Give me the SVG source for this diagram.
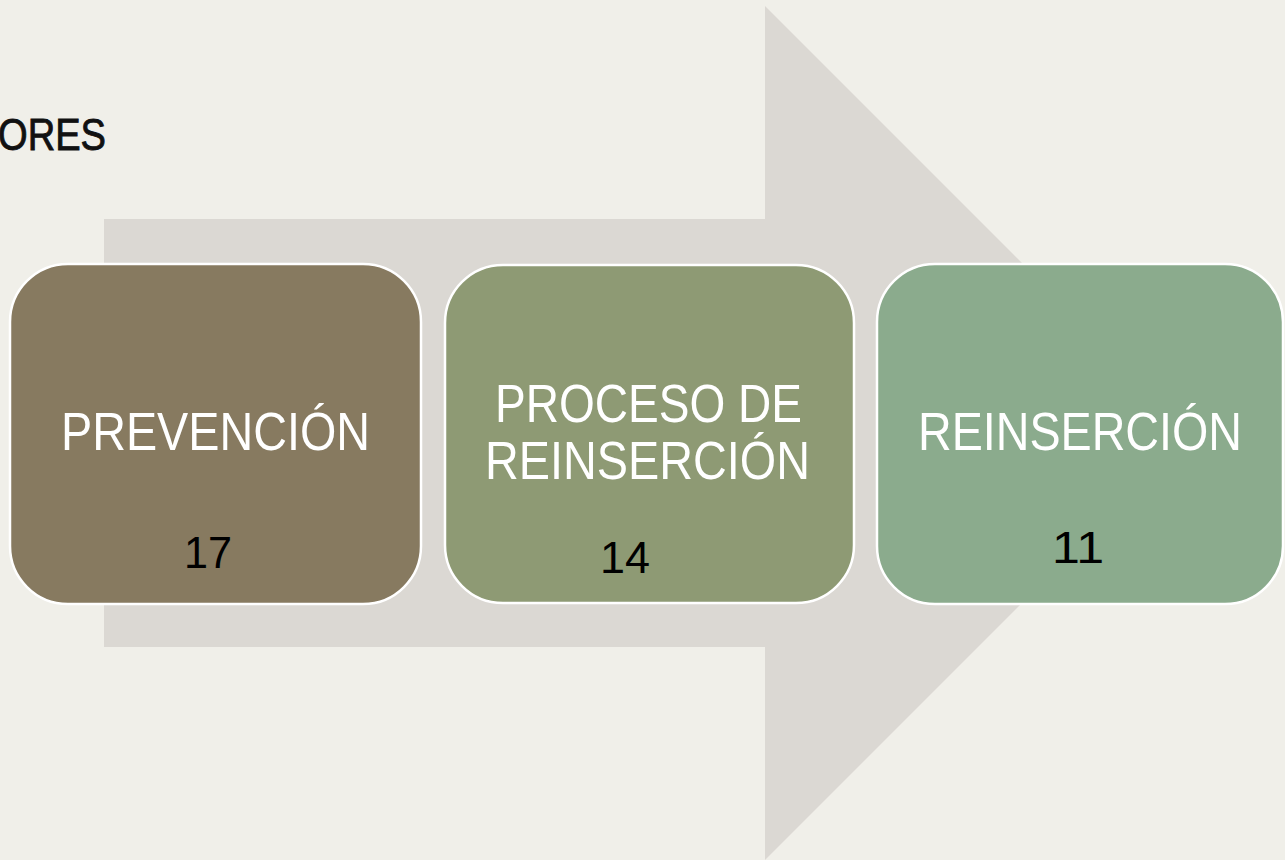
<svg xmlns="http://www.w3.org/2000/svg" width="1285" height="860" viewBox="0 0 1285 860">
<style>
.box{stroke:#FFFFFF;stroke-width:2.5}
.lbl{font-family:"Liberation Sans","DejaVu Sans",sans-serif;font-size:54px;fill:#FFFFFF;text-anchor:start}
.num{font-family:"Liberation Sans","DejaVu Sans",sans-serif;font-size:45px;fill:#000000}
</style>
<rect x="0" y="0" width="1285" height="860" fill="#F0EFE9"/>
<text x="-2" y="150" font-family="'Liberation Sans','DejaVu Sans',sans-serif" font-size="45" fill="#111111" stroke="#111111" stroke-width="0.9" textLength="108" lengthAdjust="spacingAndGlyphs">ORES</text>
<g id="arrow">
<polygon points="104,219 765,219 765,6 1192,433 765,860 765,647 104,647" fill="#DBD8D3"/>
</g>
<g id="connectors"></g>
<g id="node-prevencion">
<rect class="box" x="10" y="264" width="411" height="340" rx="58" ry="58" fill="#877A60"/>
<text class="lbl" x="61" y="450" textLength="309" lengthAdjust="spacingAndGlyphs">PREVENCIÓN</text>
<text class="num" x="184" y="568" textLength="48" lengthAdjust="spacingAndGlyphs">17</text>
</g>
<g id="node-proceso">
<rect class="box" x="445" y="265" width="409" height="338" rx="58" ry="58" fill="#8E9A74"/>
<text class="lbl" x="495" y="422" textLength="307" lengthAdjust="spacingAndGlyphs">PROCESO DE</text>
<text class="lbl" x="485" y="479" textLength="325" lengthAdjust="spacingAndGlyphs">REINSERCIÓN</text>
<text class="num" x="600" y="573" textLength="50" lengthAdjust="spacingAndGlyphs">14</text>
</g>
<g id="node-reinsercion">
<rect class="box" x="877" y="264" width="406" height="340" rx="58" ry="58" fill="#8BAB8D"/>
<text class="lbl" x="918" y="450" textLength="324" lengthAdjust="spacingAndGlyphs">REINSERCIÓN</text>
<text class="num" x="1052" y="563" textLength="52" lengthAdjust="spacingAndGlyphs">11</text>
</g>
</svg>
